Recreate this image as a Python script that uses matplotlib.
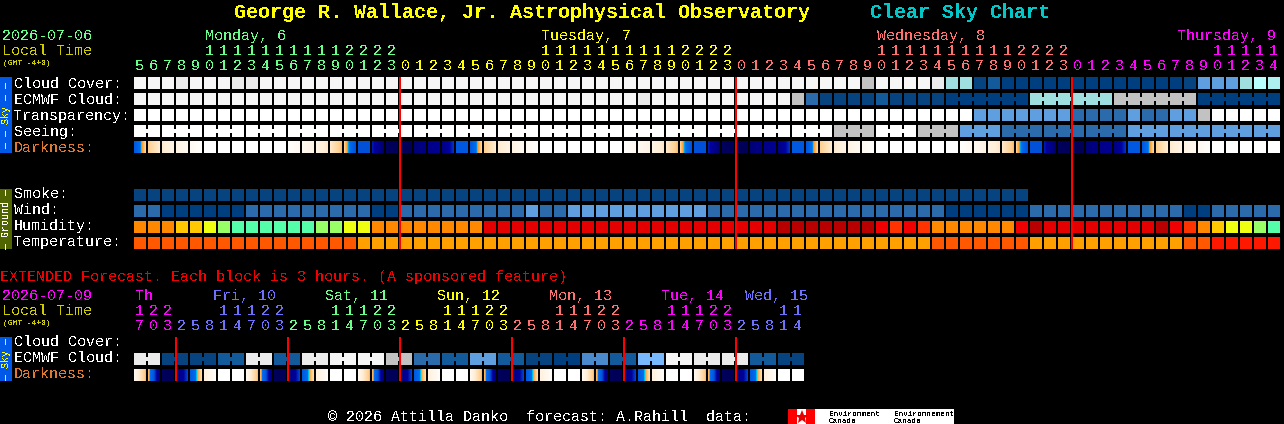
import numpy as np
import matplotlib
matplotlib.use('Agg')
import matplotlib.pyplot as plt
from matplotlib.colors import LinearSegmentedColormap

# block colours
colors = {
    'w': '#ffffff', 'a': '#f6f6f6', 'b': '#ebebeb', 'g': '#c2c2c2',
    't': '#9fdfdf', 'c': '#b8ffff', 'p': '#aef0f0',
    'd': '#003f7f', 'e': '#07437f', 'm': '#135a9a', 'n': '#2b6bab',
    'q': '#4a8acc', 's': '#5f9fdf', 'v': '#78b8ff',
    'O': '#ff8800', 'Y': '#ffc800', 'L': '#eeff11', 'G': '#99ff66',
    'T': '#55ffaa', 'R': '#e40000', 'D': '#b80000', 'B': '#f00000',
    'F': '#ff3300', 'A': '#ffa000', 'H': '#ff5800', 'X': '#ff1800',
}

# hourly rows, one letter per hour
cloud_cover = 'aaabaaabb' + 'a'*43 + 'gaaaabttem' + 'd'*13 + 'essstcp'
ecmwf_cloud = 'a'*36 + 'b' + 'a'*10 + 'gneee' + 'emeeee' + 'd'*6 + 't'*6 + 'g'*6 + 'd'*6
transparency = 'w'*60 + 's'*7 + 'n'*4 + 's' + 'nn' + 'ss' + 'g' + 'w'*5
seeing = 'w'*50 + 'ggg' + 'www' + 'ggg' + 'sss' + 'n'*9 + 's'*11
smoke = 'e'*64
wind = 'nn' + 'd'*6 + 'n'*9 + 'dd' + 'n'*9 + 's' + 'nn' + 's'*10 + 'n'*11 + 'n'*6 + 'd'*6 + 'n'*11 + 'dd' + 'n'*5
humidity = 'OOOYYLGTTTTTTGGLLOOOO' + 'OOOO' + 'R'*21 + 'D'*6 + 'DBFBF' + 'O'*6 + 'BD' + 'R'*8 + 'DBFOYLLGT'
temperature = 'H'*16 + 'A'*36 + 'A'*5 + 'H'*7 + 'A'*11 + 'HH' + 'X'*5

# darkness, value at left and right edge of each hour block (0 white, 1 night)
dark_left = [.60, .30, .17, .10, .05, 0, 0, 0, 0, 0, 0, .01, .05, .10, .18, .30, .62, .72, .97, .98, .92, .86, .88, .60,
             .60, .30, .17, .10, .05, 0, 0, 0, 0, 0, 0, .01, .05, .10, .18, .30, .62, .72, .97, .98, .92, .86, .88, .60,
             .60, .30, .17, .10, .05, 0, 0, 0, 0, 0, 0, .01, .05, .10, .18, .30, .62, .72, .97, .98, .92, .86, .88, .60,
             .60, .30, .17, .10, .05, 0, 0, 0, 0, 0]
dark_right = [.28, .16, .10, .05, .01, 0, 0, 0, 0, 0, 0, .05, .10, .18, .33, .62, .62, .95, .98, .98, .88, .82, .68, .60,
              .28, .16, .10, .05, .01, 0, 0, 0, 0, 0, 0, .05, .10, .18, .33, .62, .62, .95, .98, .98, .88, .82, .68, .60,
              .28, .16, .10, .05, .01, 0, 0, 0, 0, 0, 0, .05, .10, .18, .33, .62, .62, .95, .98, .98, .88, .82, .68, .60,
              .28, .16, .10, .05, .01, 0, 0, 0, 0, 0]

hours = [5,6,7,8,9,10,11,12,13,14,15,16,17,18,19,20,21,22,23,
         0,1,2,3,4,5,6,7,8,9,10,11,12,13,14,15,16,17,18,19,20,21,22,23,
         0,1,2,3,4,5,6,7,8,9,10,11,12,13,14,15,16,17,18,19,20,21,22,23,
         0,1,2,3,4,5,6,7,8,9,10,11,12,13,14]
hour_days = [0]*19 + [1]*24 + [2]*24 + [3]*15
day_names = ['Monday, 6', 'Tuesday, 7', 'Wednesday, 8', 'Thursday, 9']
day_colors = ['#66ff88', '#ffff00', '#ff7070', '#ff00ff']
day_label_x = [205, 541, 877, 1177]
midnights = [19, 43, 67]

# extended forecast, 3 hour blocks
ext_ecmwf = 'bb' + 'ee' + 'ee' + 'mm' + 'bb' + 'mm' + 'bb' + 'aa' + 'aa' + 'gg' + 'nn' + 'mm' \
    + 'ss' + 'mm' + 'ee' + 'dd' + 'qq' + 'mm' + 'vv' + 'aa' + 'bb' + 'bb' + 'mm' + 'ee'
ext_dark_left = [.05, .34, .97, .95, .60, .12, 0, 0] * 6
ext_dark_right = [.33, .90, .98, .65, .25, .02, 0, 0] * 6
ext_hours = [17,20,23] + [2,5,8,11,14,17,20,23]*5 + [2,5,8,11,14]
ext_hour_colors = ['#ff00ff']*3 + ['#7070ff']*8 + ['#66ff88']*8 + ['#ffff00']*8 + ['#ff7070']*8 + ['#ff00ff']*8 + ['#7070ff']*5
ext_day_names = ['Th', 'Fri, 10', 'Sat, 11', 'Sun, 12', 'Mon, 13', 'Tue, 14', 'Wed, 15']
ext_day_colors = ['#ff00ff', '#7070ff', '#66ff88', '#ffff00', '#ff7070', '#ff00ff', '#7070ff']
ext_day_x = [135, 213, 325, 437, 549, 661, 745]
ext_midnights = [3, 11, 19, 27, 35, 43]

plt.rcParams['font.family'] = ['Liberation Mono', 'DejaVu Sans Mono']
plt.rcParams['text.antialiased'] = False

X0 = 134     # left edge of first block
STEP = 14
SIZE = 12

dark_cmap = LinearSegmentedColormap.from_list('dark', [
    (0.0, '#ffffff'), (0.05, '#fff8f0'), (0.15, '#ffeed8'), (0.30, '#ffd090'),
    (0.37, '#ffa030'), (0.40, '#00d8e8'), (0.43, '#0070f0'), (0.60, '#0058e0'),
    (0.66, '#0040c8'), (0.76, '#0000a0'), (0.90, '#000080'), (1.0, '#000050')])


def blocks(ax, row, y, joined=None):
    xs = X0 + STEP*np.arange(len(row))
    ax.bar(xs, SIZE, width=SIZE, bottom=y, align='edge', linewidth=0,
           color=[colors[c] for c in row])
    # the little necks between joined blocks
    if joined is not None:
        for i in range(len(row)-1):
            if joined(i) and row[i] == row[i+1]:
                ax.bar(xs[i]+SIZE, 4, width=STEP-SIZE, bottom=y+4, align='edge',
                       linewidth=0, color=colors[row[i]])


def darkness(ax, left, right, y):
    for i in range(len(left)):
        x = X0 + STEP*i
        ax.imshow(np.linspace(left[i], right[i], SIZE)[None, :], cmap=dark_cmap, vmin=0, vmax=1,
                  extent=(x, x+SIZE, y+SIZE, y), aspect='auto', interpolation='nearest')


def redlines(ax, cols, y0, y1):
    for c in cols:
        ax.bar(X0 + STEP*c - 1, y1-y0, width=2, bottom=y0, align='edge', linewidth=0,
               color='#ff0000', zorder=5)


def side(ax, y0, y1, color, txt, txtcolor):
    ax.bar(0, y1-y0, width=12, bottom=y0, align='edge', linewidth=0, color=color)
    ax.text(6, (y0+y1)/2, txt, color=txtcolor, fontsize=7.2, rotation=90, ha='center', va='center')


def label(ax, x, y, s, color='#ffffff', size=10.8, **kw):
    ax.text(x, y, s, color=color, fontsize=size, va='baseline', **kw)


fig = plt.figure(figsize=(12.84, 4.24), dpi=100, facecolor='black')
ax = fig.add_axes([0, 0, 1, 1])
ax.set_facecolor('black')
ax.set_axis_off()

# titles
label(ax, 234, 18, 'George R. Wallace, Jr. Astrophysical Observatory', '#ffff00', 14.4, fontweight='bold')
label(ax, 870, 18, 'Clear Sky Chart', '#00c8c8', 14.4, fontweight='bold')

# main header
label(ax, 2, 40, '2026-07-06', '#66ff88')
label(ax, 2, 55, 'Local Time', '#cccc00')
label(ax, 3, 65, '(GMT -4+0)', '#cccc00', 5.7)
for i in range(4):
    label(ax, day_label_x[i], 40, day_names[i], day_colors[i])
for i in range(len(hours)):
    x = X0 + STEP*i + 5.5
    col = day_colors[hour_days[i]]
    if hours[i] >= 10:
        label(ax, x, 55, str(hours[i]//10), col, ha='center')
    label(ax, x, 70, str(hours[i] % 10), col, ha='center')

# sky block
for y, s, col in zip([88, 104, 120, 136, 152],
                     ['Cloud Cover:', 'ECMWF Cloud:', 'Transparency:', 'Seeing:', 'Darkness:'],
                     ['#ffffff']*4 + ['#e07830']):
    label(ax, 14, y, s, col)
side(ax, 77, 153, '#0058e8', '\u2014 \u2014 Sky \u2014 \u2014', '#ffff00')
blocks(ax, cloud_cover, 77)
blocks(ax, ecmwf_cloud, 93, joined=lambda i: i >= 58)
blocks(ax, transparency, 109)
blocks(ax, seeing, 125, joined=lambda i: (i-1) % 3 != 0)
darkness(ax, dark_left, dark_right, 141)

# ground block
for y, s in zip([198, 214, 230, 246], ['Smoke:', 'Wind:', 'Humidity:', 'Temperature:']):
    label(ax, 14, y, s)
side(ax, 189, 249, '#506400', '\u2014 Ground \u2014', '#ffffff')
blocks(ax, smoke, 189)
blocks(ax, wind, 205)
blocks(ax, humidity, 221)
blocks(ax, temperature, 237)
redlines(ax, midnights, 77, 249)

# extended forecast
label(ax, 0, 281, 'EXTENDED Forecast. Each block is 3 hours. (A sponsored feature)', '#f00000')
label(ax, 2, 300, '2026-07-09', '#ff00ff')
label(ax, 2, 315, 'Local Time', '#cccc00')
label(ax, 3, 325, '(GMT -4+0)', '#cccc00', 5.7)
for i in range(len(ext_day_names)):
    label(ax, ext_day_x[i], 300, ext_day_names[i], ext_day_colors[i])
for i in range(len(ext_hours)):
    x = X0 + STEP*i + 5.5
    if ext_hours[i] >= 10:
        label(ax, x, 315, str(ext_hours[i]//10), ext_hour_colors[i], ha='center')
    label(ax, x, 330, str(ext_hours[i] % 10), ext_hour_colors[i], ha='center')
for y, s, col in zip([346, 362, 378], ['Cloud Cover:', 'ECMWF Cloud:', 'Darkness:'], ['#ffffff', '#ffffff', '#e07830']):
    label(ax, 14, y, s, col)
side(ax, 337, 381, '#0058e8', '\u2014 Sky \u2014', '#ffff00')
blocks(ax, ext_ecmwf, 353, joined=lambda i: i % 2 == 0)
darkness(ax, ext_dark_left, ext_dark_right, 369)
redlines(ax, ext_midnights, 337, 381)

# footer
label(ax, 328, 421, '\u00a9 2026 Attilla Danko  forecast: A.Rahill  data:')
ax.bar(788, 15, width=166, bottom=409, align='edge', linewidth=0, color='#ffffff')
ax.bar(788, 15, width=9, bottom=409, align='edge', linewidth=0, color='#ff0000')
ax.bar(806, 15, width=9, bottom=409, align='edge', linewidth=0, color='#ff0000')
ax.plot([801.5], [416.5], marker='*', markersize=10, color='#e80000', markeredgewidth=0)
for x, a in zip([829, 894], ['Environment', 'Environnement']):
    ax.text(x, 416, a, color='black', fontsize=5.5, va='baseline')
    ax.text(x, 423, 'Canada', color='black', fontsize=5.5, va='baseline')

ax.set_xlim(0, 1284)
ax.set_ylim(424, 0)
fig.savefig('out.png', dpi=100, facecolor='black')
